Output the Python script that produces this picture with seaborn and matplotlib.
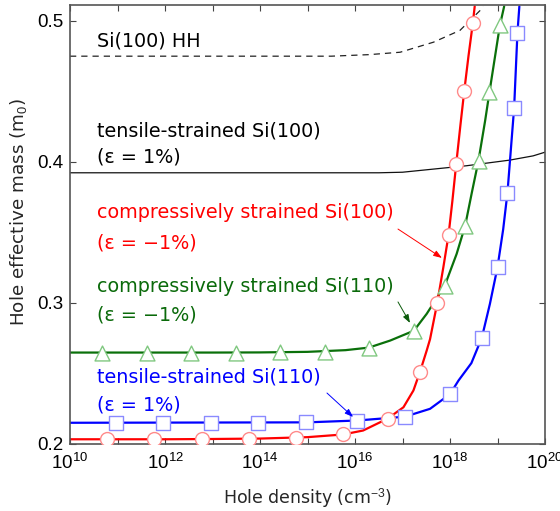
import numpy as np
import pandas as pd
import matplotlib
matplotlib.use("Agg")
import matplotlib.pyplot as plt
import seaborn as sns

# ---------------- data (hole density exponents log10(p), effective mass in m0) ----------------
red_exp = [10, 11, 12, 13, 14, 15, 15.75, 16.17, 16.69, 17.02, 17.23, 17.37, 17.51, 17.58,
           17.73, 17.86, 17.97, 18.05, 18.13, 18.22, 18.30, 18.39, 18.48, 18.52]
red_m = [0.203, 0.203, 0.203, 0.2032, 0.2035, 0.2045, 0.2064, 0.2092, 0.2177, 0.2257, 0.2376,
         0.251, 0.266, 0.274, 0.2994, 0.325, 0.348, 0.372, 0.398, 0.426, 0.450, 0.475, 0.498, 0.51]
red_mk_exp = [10.78, 11.77, 12.78, 13.77, 14.76, 15.75, 16.69, 17.37, 17.73, 17.97, 18.13, 18.30, 18.48]
red_mk_m = [0.2032, 0.2032, 0.2032, 0.2034, 0.2037, 0.2064, 0.2177, 0.251, 0.2994, 0.348, 0.398, 0.450, 0.498]

green_exp = [10, 11, 12, 13, 14, 15, 15.8, 16.29, 16.74, 17.24, 17.51, 17.89, 18.14, 18.32,
             18.46, 18.60, 18.74, 18.83, 19.05, 19.14]
green_m = [0.2645, 0.2645, 0.2645, 0.2645, 0.2646, 0.265, 0.2662, 0.268, 0.273, 0.280, 0.292,
           0.312, 0.3345, 0.3546, 0.378, 0.4007, 0.429, 0.449, 0.4965, 0.51]
green_mk_exp = [10.67, 11.62, 12.55, 13.49, 14.42, 15.37, 16.29, 17.24, 17.89, 18.32, 18.60, 18.83, 19.05]
green_mk_m = [0.2645, 0.2645, 0.2645, 0.2645, 0.2646, 0.2648, 0.268, 0.280, 0.312, 0.3546, 0.4007, 0.449, 0.4965]

blue_exp = [10, 15, 16.04, 17.05, 17.58, 18.0, 18.18, 18.45, 18.67, 18.84, 19.0, 19.12, 19.21,
            19.35, 19.42, 19.46]
blue_m = [0.2147, 0.215, 0.2163, 0.219, 0.2246, 0.235, 0.2447, 0.257, 0.275, 0.299, 0.325,
          0.352, 0.378, 0.438, 0.4913, 0.51]
blue_mk_exp = [10.97, 11.96, 12.97, 13.96, 14.97, 16.04, 17.05, 18.0, 18.67, 19.0, 19.21, 19.35, 19.42]
blue_mk_m = [0.2147, 0.2147, 0.2147, 0.2148, 0.2149, 0.2163, 0.219, 0.235, 0.275, 0.325, 0.378, 0.438, 0.4913]

black_exp = [10, 16.5, 17.0, 18.35, 19.26, 19.75, 20.0]
black_m = [0.392, 0.392, 0.3924, 0.397, 0.401, 0.404, 0.4066]

hh_exp = [10, 15.5, 16.3, 16.95, 17.65, 18.21, 18.63, 18.7]
hh_m = [0.4747, 0.4747, 0.4758, 0.4775, 0.4846, 0.493, 0.507, 0.51]

xtick_exp = list(range(10, 21))
ytick_vals = [0.2, 0.3, 0.4, 0.5]

labels = {
    "hh": ["Si(100) HH"],
    "black": ["tensile-strained Si(100)", "(ε = 1%)"],
    "red": ["compressively strained Si(100)", "(ε = −1%)"],
    "green": ["compressively strained Si(110)", "(ε = −1%)"],
    "blue": ["tensile-strained Si(110)", "(ε = 1%)"],
}


def df(e, m):
    return pd.DataFrame({"p": np.power(10.0, np.array(e, dtype=float)), "m": m})


sns.set_style("ticks")
plt.rcParams["font.family"] = ["Liberation Sans", "DejaVu Sans"]
plt.rcParams["mathtext.fontset"] = "custom"
plt.rcParams["mathtext.rm"] = "Liberation Sans"
plt.rcParams["mathtext.it"] = "Liberation Sans"

fig = plt.figure(figsize=(5.6, 5.11), dpi=100)
ax = fig.add_axes([70 / 560, 1 - 443.5 / 511, 475 / 560, 438.5 / 511])
ax.set_xscale("log")

RED, GREEN, BLUE = "#ff0000", "#0a700a", "#0000ff"
RED_L, GREEN_L, BLUE_L = "#ff8a8a", "#80c880", "#8a8aff"

sns.lineplot(data=df(hh_exp, hh_m), x="p", y="m", ax=ax, color="#222222", lw=0.9,
             linestyle=(0, (5, 4)), sort=False, estimator=None)
sns.lineplot(data=df(black_exp, black_m), x="p", y="m", ax=ax, color="#111111", lw=0.9,
             sort=False, estimator=None)
sns.lineplot(data=df(green_exp, green_m), x="p", y="m", ax=ax, color=GREEN, lw=1.6,
             sort=False, estimator=None)
sns.lineplot(data=df(blue_exp, blue_m), x="p", y="m", ax=ax, color=BLUE, lw=1.6,
             sort=False, estimator=None)
sns.lineplot(data=df(red_exp, red_m), x="p", y="m", ax=ax, color=RED, lw=1.6,
             sort=False, estimator=None)

sns.scatterplot(data=df(green_mk_exp, green_mk_m), x="p", y="m", ax=ax, marker="^", s=115,
                facecolor="white", edgecolor=GREEN_L, linewidth=1.0, zorder=5)
sns.scatterplot(data=df(blue_mk_exp, blue_mk_m), x="p", y="m", ax=ax, marker="s", s=110,
                facecolor="white", edgecolor=BLUE_L, linewidth=1.0, zorder=5)
sns.scatterplot(data=df(red_mk_exp, red_mk_m), x="p", y="m", ax=ax, marker="o", s=100,
                facecolor="white", edgecolor=RED_L, linewidth=1.0, zorder=5)

ax.set_xlim(1e10, 1e20)
ax.set_ylim(0.2, 0.511)
xt = [10.0 ** e for e in xtick_exp]
ax.set_xticks(xt)
ax.set_xticklabels([f"$10^{{{e}}}$" if e % 2 == 0 else "" for e in xtick_exp])
ax.minorticks_off()
ax.set_yticks(ytick_vals)
ax.set_yticklabels([f"{v:.1f}" for v in ytick_vals])
ax.tick_params(direction="in", top=True, right=True, length=4, width=0.8, colors="#444444",
               labelcolor="black", labelsize=13.5, pad=5)
ax.tick_params(axis="x", pad=7)
for sp in ax.spines.values():
    sp.set_color("#555555")
    sp.set_linewidth(1.2)


def axy(py):
    return (443.5 - py) / 438.5


ax.set_xlabel("Hole density (cm$^{-3}$)", fontsize=12.5, family=["DejaVu Sans"])
ax.set_ylabel("Hole effective mass (m$_0$)", fontsize=13.2, family=["DejaVu Sans"])
ax.xaxis.set_label_coords(0.5, axy(486))
ax.yaxis.set_label_coords((29 - 70) / 475, axy(212))

tx = (97 - 70) / 475
tfont = dict(family=["DejaVu Sans"], fontsize=13.8, va="center", ha="left")
ax.text(tx, axy(41), labels["hh"][0], transform=ax.transAxes, color="black", **tfont)
ax.text(tx, axy(131), labels["black"][0], transform=ax.transAxes, color="black", **tfont)
ax.text(tx, axy(157), labels["black"][1], transform=ax.transAxes, color="black", **tfont)
ax.text(tx, axy(213), labels["red"][0], transform=ax.transAxes, color=RED, **tfont)
ax.text(tx, axy(243), labels["red"][1], transform=ax.transAxes, color=RED, **tfont)
ax.text(tx, axy(287), labels["green"][0], transform=ax.transAxes, color="#0a6a0a", **tfont)
ax.text(tx, axy(315), labels["green"][1], transform=ax.transAxes, color="#0a6a0a", **tfont)
ax.text(tx, axy(377), labels["blue"][0], transform=ax.transAxes, color=BLUE, **tfont)
ax.text(tx, axy(405), labels["blue"][1], transform=ax.transAxes, color=BLUE, **tfont)

arrows = [
    ((16.905, 0.3521), (17.83, 0.3316), RED),
    ((16.905, 0.3004), (17.158, 0.2855), "#0a5a0a"),
    ((15.41, 0.2358), (15.96, 0.2188), BLUE),
]
for (x0, y0), (x1, y1), hc in arrows:
    ax.annotate("", xy=(10 ** x1, y1), xytext=(10 ** x0, y0),
                arrowprops=dict(arrowstyle="-|>,head_length=0.5,head_width=0.18",
                                color=hc, lw=0.7, shrinkA=0, shrinkB=0), zorder=6)

fig.savefig("out.png", dpi=100)
